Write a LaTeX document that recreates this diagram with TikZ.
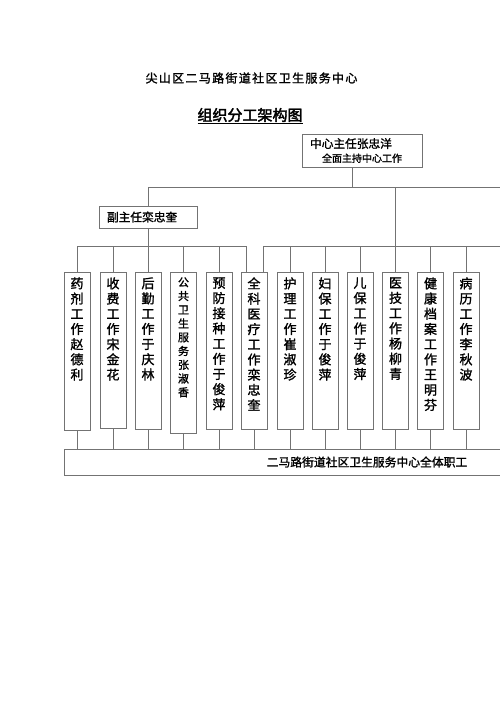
\documentclass[tikz,border=0pt]{standalone}
\usepackage{fontspec}
\setmainfont{Noto Sans CJK SC}[FakeBold=1.5]
\newfontfamily\heavy{Noto Sans CJK SC}[FakeBold=2.5]
\newfontfamily\spaced{Noto Sans CJK SC}[FakeBold=1.5,LetterSpace=11]
\colorlet{linegray}{black!55}
\tikzset{
  line/.style={draw=linegray, line width=0.8pt},
  box/.style={draw=linegray, line width=0.8pt, inner sep=0pt},
  duty/.style={box, anchor=north, font=\fontsize{13}{15.2}\selectfont},
  dutysm/.style={duty, font=\fontsize{11}{13.75}\selectfont}
}
\newcommand\shu[2][157]{\parbox[t][#1pt][t]{26pt}{\centering\vspace*{5pt}#2}}
\begin{document}
\begin{tikzpicture}[x=1pt,y=-1pt]
\useasboundingbox (0,0) rectangle (500,707);
\fill[white] (0,0) rectangle (500,707);
\clip (0,0) rectangle (500,707);

% titles
\node[font=\fontsize{12}{14}\selectfont\spaced] (dw) at (251.5,78) {尖山区二马路街道社区卫生服务中心};
\node[font=\fontsize{15}{18}\selectfont\heavy] (bt) at (250,116) {\underline{组织分工架构图}};

% heads
\node[box, minimum width=120, minimum height=33, text width=104, align=left, font=\fontsize{11.7}{14}\selectfont] (zr) at (362,150.5) {中心主任张忠洋\\\hspace*{12pt}{\fontsize{10}{14}\selectfont 全面主持中心工作}};
\node[box, minimum width=98, minimum height=22, text width=82, align=left, font=\fontsize{11.7}{14}\selectfont] (fz) at (148,217) {副主任栾忠奎};

% duties
\node[duty] (yj) at (77,272) {\shu[158]{药\\剂\\工\\作\\赵\\德\\利}};
\node[duty] (sf) at (113,272) {\shu[156]{收\\费\\工\\作\\宋\\金\\花}};
\node[duty] (hq) at (148,272) {\shu{后\\勤\\工\\作\\于\\庆\\林}};
\node[dutysm] (gw) at (183.5,272) {\shu[161]{公\\共\\卫\\生\\服\\务\\张\\淑\\香}};
\node[duty] (yf) at (219,272) {\shu{预\\防\\接\\种\\工\\作\\于\\俊\\萍}};
\node[duty] (qk) at (254,272) {\shu{全\\科\\医\\疗\\工\\作\\栾\\忠\\奎}};
\node[duty] (hl) at (290,272) {\shu{护\\理\\工\\作\\崔\\淑\\珍}};
\node[duty] (fb) at (325,272) {\shu{妇\\保\\工\\作\\于\\俊\\萍}};
\node[duty] (eb) at (360,272) {\shu{儿\\保\\工\\作\\于\\俊\\萍}};
\node[duty] (yiji) at (395.5,272) {\shu{医\\技\\工\\作\\杨\\柳\\青}};
\node[duty] (da) at (430.5,272) {\shu{健\\康\\档\\案\\工\\作\\王\\明\\芬}};
\node[duty] (bl) at (466,272) {\shu{病\\历\\工\\作\\李\\秋\\波}};
\node[duty] (qt) at (505,272) {\shu{}};

% staff
\node[box, minimum width=606, minimum height=26, font=\fontsize{11.8}{14}\selectfont] (zg) at (367,462) {二马路街道社区卫生服务中心全体职工};

% buses
\coordinate (b1) at (352,187);
\coordinate (b1e) at (520,187);
\coordinate (lb) at (246,246);
\coordinate (rb) at (263,246);
\coordinate (rbe) at (520,246);

\draw[line] (zr.south -| b1) -- (b1);
\draw[line] (fz.north) |- (b1e);
\draw[line] (b1 -| yiji) -- (yiji.north);
\draw[line] (fz.south) -- (fz.south |- lb);
\draw[line] (yj.north) |- (lb) -- (lb |- qk.north);
\draw[line] (rb |- qk.north) -- (rb) -- (rbe);

\draw[line] (sf.north) -- (sf.north |- lb);
\draw[line] (hq.north) -- (hq.north |- lb);
\draw[line] (gw.north) -- (gw.north |- lb);
\draw[line] (yf.north) -- (yf.north |- lb);

\draw[line] (hl.north) -- (hl.north |- rb);
\draw[line] (fb.north) -- (fb.north |- rb);
\draw[line] (eb.north) -- (eb.north |- rb);
\draw[line] (da.north) -- (da.north |- rb);
\draw[line] (bl.north) -- (bl.north |- rb);
\draw[line] (qt.north) -- (qt.north |- rb);

% down to staff
\draw[line] (yj.south) -- (yj.south |- zg.north);
\draw[line] (sf.south) -- (sf.south |- zg.north);
\draw[line] (hq.south) -- (hq.south |- zg.north);
\draw[line] (gw.south) -- (gw.south |- zg.north);
\draw[line] (yf.south) -- (yf.south |- zg.north);
\draw[line] (qk.south) -- (qk.south |- zg.north);
\draw[line] (hl.south) -- (hl.south |- zg.north);
\draw[line] (fb.south) -- (fb.south |- zg.north);
\draw[line] (eb.south) -- (eb.south |- zg.north);
\draw[line] (yiji.south) -- (yiji.south |- zg.north);
\draw[line] (da.south) -- (da.south |- zg.north);
\draw[line] (bl.south) -- (bl.south |- zg.north);
\draw[line] (qt.south) -- (qt.south |- zg.north);
\end{tikzpicture}
\end{document}
